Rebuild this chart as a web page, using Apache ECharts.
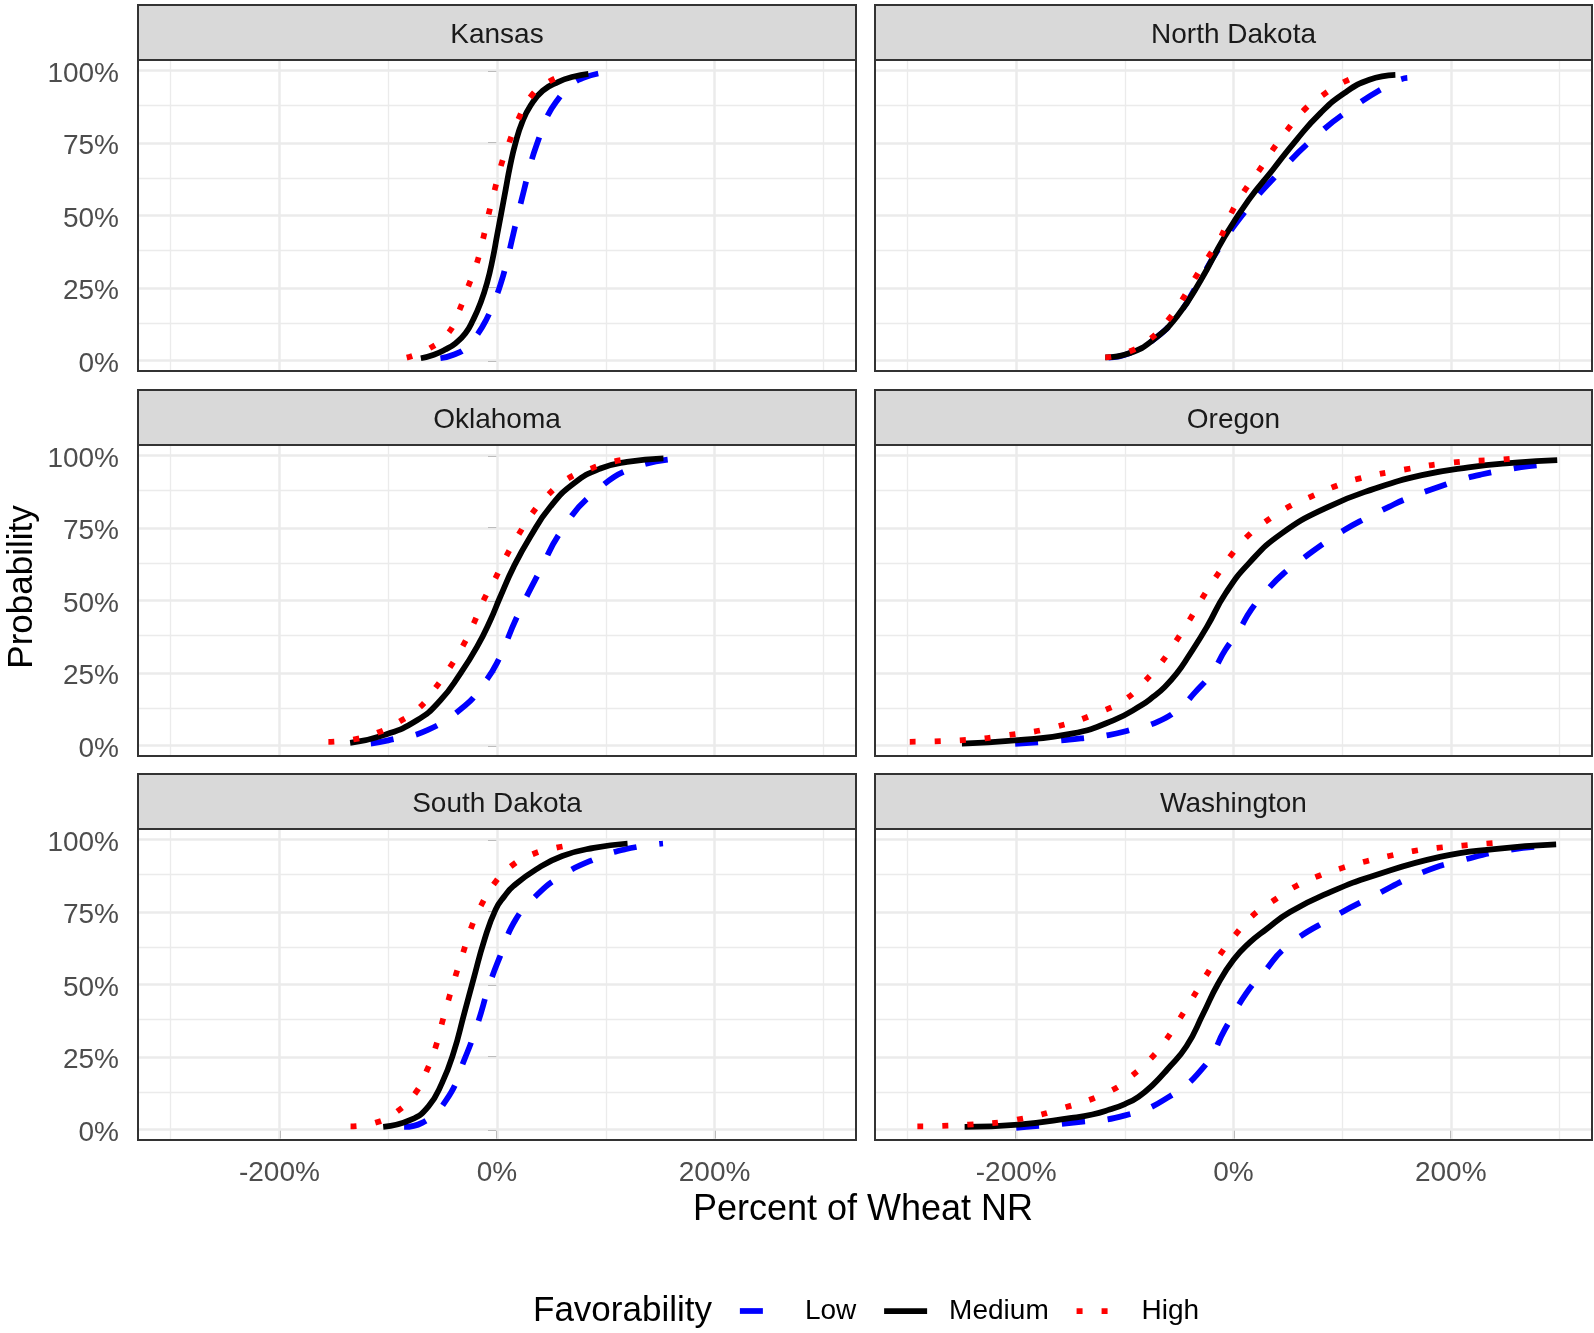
<!DOCTYPE html>
<html><head><meta charset="utf-8">
<script src="https://cdn.jsdelivr.net/npm/echarts@6/dist/echarts.min.js"></script>
<style>html,body{margin:0;padding:0;background:#fff;}#chart{width:1594px;height:1333px;}</style>
</head><body><div id="chart"></div>
<script>
// ---------- data (x = percent of wheat NR, y = cumulative probability) ----------
const states = ['Kansas', 'North Dakota', 'Oklahoma', 'Oregon', 'South Dakota', 'Washington'];
const levels = ['Low', 'Medium', 'High'];
const yTicks = [0, 0.25, 0.5, 0.75, 1];
const yMinor = [0.125, 0.375, 0.625, 0.875];
const xTicks = [-200, 0, 200];
const xMinor = [-300, -100, 100, 300];

const kansasLow = [[-52,0.008],[-40,0.02],[-28,0.045],[-18,0.09],[-10,0.14],[-3,0.2],[3,0.26],[9,0.34],[14,0.42],[19,0.5],[25,0.59],[31,0.68],[38,0.76],[46,0.84],[56,0.9],[68,0.95],[80,0.975],[94,0.99]];
const kansasMedium = [[-70,0.008],[-58,0.02],[-48,0.037],[-38,0.06],[-29,0.094],[-22,0.14],[-15,0.2],[-9,0.27],[-4,0.35],[0,0.43],[4,0.51],[8,0.59],[12,0.67],[17,0.75],[23,0.82],[31,0.88],[42,0.93],[56,0.96],[70,0.978],[84,0.988]];
const kansasHigh = [[-83,0.01],[-63,0.04],[-45,0.094],[-35,0.17],[-27,0.25],[-19,0.33],[-13,0.416],[-8,0.5],[-2,0.59],[3.5,0.67],[11,0.75],[20,0.835],[31,0.91],[48,0.962],[68,0.99]];

const northDakotaLow = [[-115,0.01],[-96,0.025],[-74,0.071],[-52,0.152],[-32,0.27],[-14.6,0.38],[12,0.52],[40,0.64],[75,0.77],[109,0.87],[149,0.962],[160,0.974]];
const northDakotaMedium = [[-118,0.011],[-96,0.025],[-74,0.071],[-52,0.152],[-30,0.278],[-8,0.428],[14,0.554],[36,0.657],[58,0.761],[80,0.853],[102,0.922],[125,0.968],[149,0.985]];
const northDakotaHigh = [[-118,0.011],[-100,0.025],[-78,0.07],[-58,0.15],[-45.5,0.22],[-34.5,0.29],[-23,0.358],[-12.4,0.42],[-1.3,0.514],[9.7,0.583],[23,0.652],[36,0.726],[49.5,0.795],[65,0.864],[82.6,0.916],[102.5,0.962],[122,0.989]];

const oklahomaLow = [[-116,0.007],[-100,0.018],[-64,0.053],[-29,0.139],[-14,0.205],[0,0.285],[18.4,0.444],[39.8,0.605],[59.7,0.743],[88.8,0.87],[128.7,0.962],[171.6,0.989]];
const oklahomaMedium = [[-135,0.009],[-104,0.036],[-73.5,0.087],[-52,0.156],[-33.7,0.248],[-18.4,0.34],[-6.1,0.432],[3,0.513],[15.3,0.616],[30.6,0.72],[49,0.823],[70.5,0.903],[95,0.955],[119.5,0.978],[153,0.99]];
const oklahomaHigh = [[-155,0.013],[-132,0.021],[-110,0.044],[-90,0.082],[-72,0.128],[-57,0.197],[-43,0.271],[-31,0.346],[-21.4,0.421],[-12.3,0.501],[-2.1,0.572],[8.3,0.651],[20,0.728],[31.6,0.797],[46.6,0.863],[64.3,0.918],[82.7,0.949],[102.6,0.975],[125.6,0.99]];

const oregonLow = [[-201,0.006],[-170,0.014],[-139,0.025],[-115,0.036],[-96,0.053],[-70,0.082],[-50,0.128],[-35,0.185],[-20,0.25],[-7.5,0.33],[5.5,0.4],[16,0.467],[31,0.536],[46,0.593],[64,0.645],[83,0.697],[102,0.743],[121,0.782],[143,0.823],[162,0.855],[184,0.885],[208,0.915],[229,0.935],[253,0.952],[272,0.963],[298,0.972]];
const oregonMedium = [[-250,0.007],[-201,0.018],[-149,0.041],[-110.6,0.087],[-84.8,0.139],[-74,0.168],[-63.3,0.202],[-52,0.25],[-41.7,0.306],[-24.5,0.409],[-7.4,0.524],[14.1,0.628],[44.3,0.731],[87.3,0.823],[130.3,0.886],[173.4,0.932],[216.4,0.959],[259.5,0.975],[298,0.984]];
const oregonHigh = [[-298,0.013],[-252.6,0.018],[-207.4,0.036],[-164.4,0.064],[-120,0.12],[-98.5,0.162],[-82.2,0.22],[-66.7,0.285],[-53.4,0.357],[-39.6,0.438],[-28,0.513],[-15.1,0.587],[-2.2,0.656],[13.3,0.723],[31.4,0.777],[50.7,0.823],[70.9,0.857],[92.4,0.892],[115.3,0.92],[158.3,0.952],[201,0.975],[246.6,0.986],[268,0.993]];

const southDakotaLow = [[-85.4,0.009],[-69,0.023],[-46.4,0.103],[-30,0.241],[-17.6,0.368],[-7.4,0.494],[2.9,0.598],[17.2,0.724],[35.7,0.805],[56.2,0.868],[89,0.931],[118,0.966],[152.6,0.986]];
const southDakotaMedium = [[-104.6,0.009],[-79,0.034],[-63,0.08],[-50.5,0.161],[-40,0.264],[-30,0.402],[-21.7,0.517],[-11.5,0.655],[-1.2,0.759],[7,0.805],[15,0.839],[36,0.897],[60,0.943],[89,0.971],[120,0.986]];
const southDakotaHigh = [[-134.6,0.011],[-112,0.023],[-91.5,0.063],[-75,0.126],[-64.8,0.201],[-56.6,0.282],[-50.5,0.368],[-44.3,0.451],[-38.2,0.529],[-31.2,0.609],[-23.8,0.695],[-14.4,0.774],[-2,0.851],[13,0.908],[32,0.948],[54,0.971],[77,0.986]];

const washingtonLow = [[-200,0.006],[-145,0.025],[-100.7,0.048],[-61,0.109],[-25.6,0.224],[-8,0.345],[12,0.471],[27.4,0.54],[49.5,0.632],[93.7,0.736],[129,0.805],[173,0.885],[213,0.931],[257,0.966],[297,0.979]];
const washingtonMedium = [[-247.5,0.009],[-198,0.017],[-149,0.04],[-130,0.052],[-114,0.069],[-100,0.088],[-87.5,0.113],[-74,0.155],[-61,0.207],[-43.3,0.287],[-27.8,0.4],[-14.6,0.5],[0,0.585],[15,0.645],[30,0.69],[52,0.75],[90,0.82],[129,0.875],[190,0.94],[240,0.967],[297,0.983]];
const washingtonHigh = [[-291,0.011],[-244,0.017],[-200,0.034],[-156,0.075],[-114,0.132],[-94,0.184],[-76.4,0.244],[-62,0.31],[-50,0.379],[-37.6,0.454],[-25.6,0.529],[-12.4,0.603],[1.8,0.672],[18.6,0.741],[38.4,0.793],[57.4,0.839],[78.2,0.874],[100.3,0.902],[122.4,0.925],[143.2,0.943],[165.3,0.96],[187.4,0.971],[210.8,0.979],[232.9,0.986],[255,0.991]];

const panelData = [
  [kansasLow, kansasMedium, kansasHigh],
  [northDakotaLow, northDakotaMedium, northDakotaHigh],
  [oklahomaLow, oklahomaMedium, oklahomaHigh],
  [oregonLow, oregonMedium, oregonHigh],
  [southDakotaLow, southDakotaMedium, southDakotaHigh],
  [washingtonLow, washingtonMedium, washingtonHigh]
];

// ---------- layout & style ----------
const FONT = "'Liberation Sans', Arial, Helvetica, sans-serif";
const colLeft = [138, 875];
const colWidth = [718, 717];
const rowTop = [60, 445, 829];
const panelH = 311;
const stripH = 55;
const lineStyles = {
  Low: { color: '#0000ff', type: [23, 23] },
  Medium: { color: '#000000', type: 'solid' },
  High: { color: '#ff0000', type: [6, 19] }
};
const LW = 5.75;

const grids = [], xAxes = [], yAxes = [], series = [], graphics = [];
states.forEach((st, i) => {
  const col = i % 2, row = Math.floor(i / 2);
  const left = colLeft[col], top = rowTop[row], w = colWidth[col];
  grids.push({ left: left, top: top, width: w, height: panelH, show: false, containLabel: false });
  const bottomRow = row === 2, leftCol = col === 0;
  xAxes.push({
    type: 'value', gridIndex: i, min: -330, max: 330,
    axisLine: { show: false }, splitLine: { show: false },
    axisTick: { show: bottomRow, customValues: xTicks, length: 9, lineStyle: { color: '#333333', width: 2 } },
    axisLabel: { show: bottomRow, customValues: xTicks, margin: 19, color: '#4d4d4d', fontSize: 28, fontFamily: FONT,
      formatter: v => v + '%' }
  });
  yAxes.push({
    type: 'value', gridIndex: i, min: -0.036, max: 1.036,
    axisLine: { show: false }, splitLine: { show: false },
    axisTick: { show: leftCol, customValues: yTicks, length: 9, lineStyle: { color: '#333333', width: 2 } },
    axisLabel: { show: leftCol, customValues: yTicks, margin: 19, color: '#4d4d4d', fontSize: 28, fontFamily: FONT,
      verticalAlign: 'top', lineHeight: 7, formatter: v => Math.round(v * 100) + '%' }
  });
  const gl = [];
  yTicks.forEach(v => gl.push({ yAxis: v, lineStyle: { width: 2.5 } }));
  yMinor.forEach(v => gl.push({ yAxis: v, lineStyle: { width: 1.3 } }));
  xTicks.forEach(v => gl.push({ xAxis: v, lineStyle: { width: 2.5 } }));
  xMinor.forEach(v => gl.push({ xAxis: v, lineStyle: { width: 1.3 } }));
  levels.forEach((lv, k) => {
    const s = {
      type: 'line', name: lv, xAxisIndex: i, yAxisIndex: i,
      data: panelData[i][k], showSymbol: false, symbol: 'none',
      smooth: 0.5, z: 3,
      lineStyle: { color: lineStyles[lv].color, width: LW, type: lineStyles[lv].type, cap: 'butt', join: 'round' },
      itemStyle: { color: lineStyles[lv].color },
      emphasis: { disabled: true }, silent: true
    };
    if (k === 0) {
      s.markLine = { silent: true, z: 1, symbol: ['none', 'none'], label: { show: false },
        lineStyle: { color: '#ebebeb', type: 'solid' }, emphasis: { disabled: true }, data: gl };
    }
    series.push(s);
  });
  // strip
  graphics.push({ type: 'rect', shape: { x: left, y: top - stripH, width: w, height: stripH },
    style: { fill: '#d9d9d9', stroke: '#333333', lineWidth: 2 }, z: 50, silent: true });
  graphics.push({ type: 'text', x: left + w / 2, y: top - stripH + 30, z: 51, silent: true,
    style: { text: st, fontSize: 28, fontFamily: FONT, fill: '#1a1a1a', align: 'center', verticalAlign: 'middle' } });
  // panel border
  graphics.push({ type: 'rect', shape: { x: left, y: top, width: w, height: panelH },
    style: { fill: 'none', stroke: '#333333', lineWidth: 2 }, z: 100, silent: true });
});

graphics.push({ type: 'text', x: 22, y: 587, rotation: Math.PI / 2, z: 60, silent: true,
  style: { text: 'Probability', fontSize: 35, fontFamily: FONT, fill: '#000', align: 'center', verticalAlign: 'middle' } });
graphics.push({ type: 'text', x: 863, y: 1210, z: 60, silent: true,
  style: { text: 'Percent of Wheat NR', fontSize: 36, fontFamily: FONT, fill: '#000', align: 'center', verticalAlign: 'middle' } });
graphics.push({ type: 'text', x: 533, y: 1311, z: 60, silent: true,
  style: { text: 'Favorability', fontSize: 35, fontFamily: FONT, fill: '#000', align: 'left', verticalAlign: 'middle' } });

const option = {
  animation: false,
  backgroundColor: '#ffffff',
  grid: grids, xAxis: xAxes, yAxis: yAxes, series: series,
  legend: {
    left: 737, top: 1297, padding: 0, orient: 'horizontal',
    itemWidth: 43, itemHeight: 28, itemGap: 25, selectedMode: false,
    itemStyle: { opacity: 0 },
    lineStyle: { width: LW, cap: 'butt' },
    textStyle: { fontSize: 28, fontFamily: FONT, color: '#000', padding: [0, 0, 0, 17] },
    data: levels.map(lv => ({ name: lv, lineStyle: { width: LW, type: lineStyles[lv].type, color: lineStyles[lv].color } }))
  },
  graphic: graphics
};
const chart = echarts.init(document.getElementById('chart'), null, { renderer: 'canvas' });
chart.setOption(option);
</script></body></html>
